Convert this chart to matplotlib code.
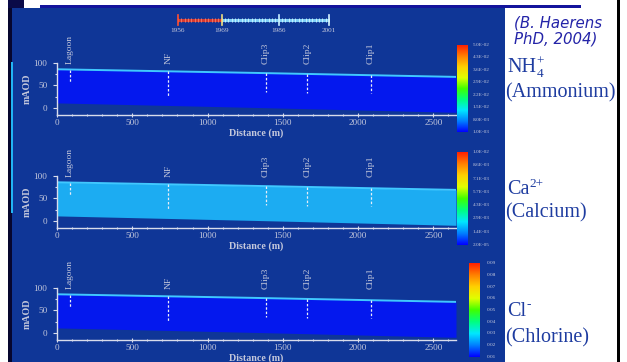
import matplotlib
matplotlib.use('Agg')
import matplotlib.pyplot as plt
import numpy as np
from matplotlib.patches import Rectangle
from matplotlib.colors import LinearSegmentedColormap
from matplotlib.ticker import MultipleLocator

W, H = 627, 362

# ---------------- data ----------------
distance = [0, 1300, 2650]
surface = [86, 78, 69]
base = [11, 1, -10]
wells = ['Lagoon', 'NF', 'Clip3', 'Clip2', 'Clip1']
well_x = [86, 740, 1385, 1662, 2085]
well_bottom = [58, 27, 36, 33, 33]
x_ticks = [0, 500, 1000, 1500, 2000, 2500]
y_ticks = [0, 50, 100]
species_main = ['NH', 'Ca', 'Cl']
species_sub = ['4', '', '']
species_sup = ['+', '2+', '-']
species_names = ['(Ammonium)', '(Calcium)', '(Chlorine)']
cbar_labels_nh4 = ['1.0E-03', '8.0E-03', '1.5E-02', '2.2E-02', '2.9E-02', '3.6E-02', '4.3E-02', '5.0E-02']
cbar_labels_ca = ['2.0E-05', '1.4E-03', '2.9E-03', '4.3E-03', '5.7E-03', '7.1E-03', '8.6E-03', '1.0E-02']
cbar_labels_cl = ['0.01', '0.02', '0.03', '0.04', '0.05', '0.06', '0.07', '0.08', '0.09']
panel_fill = ['#0418ee', '#1cacf2', '#0418ee']
timeline_years = [1956, 1969, 1986, 2001]
credit = '(B. Haerens\nPhD, 2004)'

fig = plt.figure(figsize=(W / 100, H / 100), dpi=100)
fig.patch.set_facecolor('white')


def rect(x0, y0, x1, y1):
    return [x0 / W, 1 - y1 / H, (x1 - x0) / W, (y1 - y0) / H]


def box(x0, y0, x1, y1, color):
    r = Rectangle((x0 / W, 1 - y1 / H), (x1 - x0) / W, (y1 - y0) / H,
                  transform=fig.transFigure, figure=fig, color=color, zorder=-10, lw=0)
    fig.patches.append(r)


PANEL = '#0f3697'
box(8, 0, 12, 362, '#06062e')
box(8, 0, 24, 8, '#0a0a48')
box(12, 8, 505, 362, PANEL)
box(11, 62, 13, 213, '#22b4f4')
box(40, 5, 581, 7.5, '#14149c')
box(617, 0, 620, 362, '#000000')

TXT = '#c4c8dc'
SERIF = 'Liberation Serif'
SPC = '#1e3ca0'

cmap = LinearSegmentedColormap.from_list(
    'jetlike', ['#0000ff', '#0080ff', '#00e8ff', '#00ff80', '#40ff00',
                '#e0ff00', '#ffd000', '#ff8000', '#ff2000'])

panel_tops = [63, 176, 288]
cbar_boxes = [(457, 45, 467, 132), (457, 152, 467, 245), (469, 263, 480, 357)]
cbar_labels = [cbar_labels_nh4, cbar_labels_ca, cbar_labels_cl]
species_y = [(68, 93), (190, 213), (311, 338)]

well_top = np.interp(well_x, distance, surface)
renderer = fig.canvas.get_renderer()

for i in range(3):
    top = panel_tops[i]
    ax = fig.add_axes(rect(57, top, 456, top + 52))
    ax.set_facecolor('none')
    ax.set_xlim(0, 2650)
    ax.set_ylim(-16, 100)
    ax.fill_between(distance, base, surface, color=panel_fill[i], lw=0, zorder=1)
    ax.plot(distance, surface, color='#40c8ff', lw=1.4, zorder=2)
    for name, wx, wt, wb in zip(wells, well_x, well_top, well_bottom):
        ax.plot([wx, wx], [wt, wb], color='#e8ecf8', lw=0.9, ls=(0, (2, 1.5)), zorder=3)
        ax.text(wx, 98, name, rotation=90, ha='center', va='bottom', fontsize=6.8,
                color=TXT, family=SERIF, clip_on=False)
    for s in ['top', 'right']:
        ax.spines[s].set_visible(False)
    for s in ['left', 'bottom']:
        ax.spines[s].set_color('#d8dcec')
        ax.spines[s].set_linewidth(1.0)
    ax.set_xticks(x_ticks)
    ax.set_yticks(y_ticks)
    ax.xaxis.set_minor_locator(MultipleLocator(100))
    ax.yaxis.set_minor_locator(MultipleLocator(25))
    ax.tick_params(axis='both', which='both', colors='#d8dcec', labelcolor=TXT,
                   labelsize=6.6, width=0.8)
    ax.tick_params(axis='x', which='major', length=2.5, direction='inout', pad=1.5)
    ax.tick_params(axis='x', which='minor', length=1.5, direction='inout')
    ax.tick_params(axis='y', which='major', length=3, direction='out', pad=4)
    ax.tick_params(axis='y', which='minor', length=1.5, direction='out')
    for lab in ax.get_xticklabels() + ax.get_yticklabels():
        lab.set_family(SERIF)
    ax.set_xlabel('Distance (m)', fontsize=7.2, color=TXT, family=SERIF,
                  fontweight='bold', labelpad=1)
    ax.set_ylabel('mAOD', fontsize=7.2, color=TXT, family=SERIF,
                  fontweight='bold', labelpad=1)

    # colorbar
    x0, y0, x1, y1 = cbar_boxes[i]
    cax = fig.add_axes(rect(x0, y0, x1, y1))
    grad = np.linspace(0, 1, 256).reshape(-1, 1)
    cax.imshow(grad, aspect='auto', cmap=cmap, origin='lower', extent=(0, 1, 0, 1))
    cax.set_axis_off()
    labs = cbar_labels[i]
    n = len(labs)
    for k, lab in enumerate(labs):
        cax.text(1.6, k / (n - 1), lab, transform=cax.transAxes, fontsize=3.8,
                 color=TXT, family=SERIF, ha='left', va='center')

    # species text
    ya, yb = species_y[i]
    t = fig.text(507 / W, 1 - ya / H, species_main[i], fontsize=14.5, color=SPC,
                 ha='left', va='center', family=SERIF)
    bb = t.get_window_extent(renderer)
    xr = bb.x1 / W
    if species_sub[i]:
        fig.text(xr + 0.5 / W, 1 - (ya + 6) / H, species_sub[i], fontsize=9.5, color=SPC,
                 ha='left', va='center', family=SERIF)
    fig.text(xr + 0.5 / W, 1 - (ya - 6) / H, species_sup[i], fontsize=9.5, color=SPC,
             ha='left', va='center', family=SERIF)
    fig.text(505 / W, 1 - yb / H, species_names[i], fontsize=14.5, color=SPC,
             ha='left', va='center', family=SERIF)

# credit
fig.text(514 / W, 1 - 31 / H, credit, fontsize=10.8, color='#2424a8', style='italic',
         family='DejaVu Sans', ha='left', va='center', linespacing=1.05)

# timeline
tax = fig.add_axes(rect(178, 10, 329, 30))
tax.set_xlim(timeline_years[0], timeline_years[-1])
tax.set_ylim(0, 1)
tax.set_axis_off()
yrs_red = np.arange(timeline_years[0], timeline_years[1] + 1)
yrs_blue = np.arange(timeline_years[1], timeline_years[-1] + 1)
tax.plot([timeline_years[0], timeline_years[1]], [0.5, 0.5], color='#d83a30', lw=2.2,
         solid_capstyle='butt')
tax.plot([timeline_years[1], timeline_years[-1]], [0.5, 0.5], color='#80d0f8', lw=2.2,
         solid_capstyle='butt')
tax.plot(yrs_red, [0.5] * len(yrs_red), ls='none', marker='|', ms=3, color='#f08070', mew=0.6)
tax.plot(yrs_blue, [0.5] * len(yrs_blue), ls='none', marker='|', ms=3, color='#d0f4ff', mew=0.6)
tick_cols = ['#ff5030', '#f0e080', '#c8f0ff', '#d8f4ff']
for yr, c in zip(timeline_years, tick_cols):
    tax.plot([yr, yr], [0.25, 0.75], color=c, lw=1.2, clip_on=False)
    tax.text(yr, 0.0, str(yr), ha='center', va='center', fontsize=5.2, color=TXT,
             family=SERIF, clip_on=False)

fig.savefig('out.png', dpi=100, facecolor=fig.get_facecolor())
